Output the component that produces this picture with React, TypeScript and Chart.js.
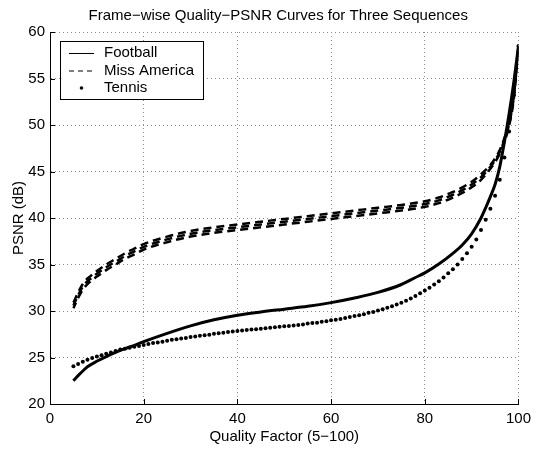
import React, { useEffect, useRef } from "react";
import { Chart, registerables } from "chart.js";

Chart.register(...registerables);

const FONT = "'Liberation Sans', Arial, Helvetica, sans-serif";

const chartTitle = "Frame\u2212wise Quality\u2212PSNR Curves for Three Sequences";
const xAxisTitle = "Quality Factor (5\u2212100)";
const yAxisTitle = "PSNR (dB)";
const seriesNames = ["Football", "Miss America", "Tennis"];

const xTickValues = [0, 20, 40, 60, 80, 100];
const yTickValues = [20, 25, 30, 35, 40, 45, 50, 55, 60];

// Football (solid)
const footballQ = [5, 6, 7, 8, 10, 12, 14, 16, 18, 20, 25, 30, 35, 40, 45, 50, 55, 60, 65, 70, 75, 78, 80, 83, 86, 88, 90, 92, 93, 94, 95, 96, 97, 98, 99, 100];
const footballPSNR = [22.5, 23.05, 23.55, 24.0, 24.6, 25.1, 25.55, 25.95, 26.3, 26.7, 27.6, 28.4, 29.05, 29.55, 29.9, 30.2, 30.5, 30.9, 31.4, 32.0, 32.85, 33.6, 34.1, 35.05, 36.2, 37.1, 38.3, 40.0, 41.1, 42.3, 43.6, 45.5, 48.2, 51.2, 54.6, 58.5];

// Miss America (dashed, band of frames)
const missAmericaQ = [5, 6, 7, 8, 9, 10, 12, 14, 16, 18, 20, 25, 30, 35, 40, 45, 50, 55, 60, 65, 70, 75, 80, 83, 86, 88, 90, 92, 94, 95, 96, 97, 98, 99, 100];
const missAmericaUpper = [30.9, 32.0, 32.9, 33.5, 33.9, 34.3, 35.0, 35.6, 36.2, 36.7, 37.2, 38.0, 38.6, 39.0, 39.3, 39.6, 39.9, 40.2, 40.5, 40.8, 41.1, 41.4, 41.8, 42.2, 42.8, 43.3, 43.9, 44.7, 45.7, 46.4, 47.3, 48.6, 50.3, 53.2, 58.5];
const missAmericaMiddle = [30.6, 31.7, 32.6, 33.2, 33.6, 34.0, 34.7, 35.3, 35.9, 36.4, 36.9, 37.7, 38.3, 38.7, 39.0, 39.3, 39.6, 39.9, 40.2, 40.5, 40.8, 41.1, 41.5, 41.9, 42.5, 43.0, 43.6, 44.4, 45.5, 46.2, 47.1, 48.4, 50.1, 53.0, 58.4];
const missAmericaLower = [30.3, 31.4, 32.3, 32.9, 33.3, 33.7, 34.4, 35.0, 35.6, 36.1, 36.6, 37.4, 38.0, 38.4, 38.7, 39.0, 39.3, 39.6, 39.9, 40.2, 40.5, 40.8, 41.2, 41.6, 42.2, 42.7, 43.3, 44.1, 45.3, 46.0, 46.9, 48.2, 49.9, 52.8, 58.3];

// Tennis (dots, one per quality factor)
const tennisQ = [5, 6, 7, 8, 9, 10, 11, 12, 13, 14, 15, 16, 17, 18, 19, 20, 21, 22, 23, 24, 25, 26, 27, 28, 29, 30, 31, 32, 33, 34, 35, 36, 37, 38, 39, 40, 41, 42, 43, 44, 45, 46, 47, 48, 49, 50, 51, 52, 53, 54, 55, 56, 57, 58, 59, 60, 61, 62, 63, 64, 65, 66, 67, 68, 69, 70, 71, 72, 73, 74, 75, 76, 77, 78, 79, 80, 81, 82, 83, 84, 85, 86, 87, 88, 89, 90, 91, 92, 93, 94, 95, 96, 97, 98, 99, 100];
const tennisPSNR = [24.05, 24.3, 24.55, 24.75, 24.95, 25.1, 25.25, 25.4, 25.55, 25.7, 25.85, 25.95, 26.05, 26.15, 26.25, 26.35, 26.45, 26.55, 26.6, 26.7, 26.8, 26.9, 26.95, 27.05, 27.1, 27.2, 27.25, 27.35, 27.4, 27.45, 27.55, 27.6, 27.65, 27.75, 27.8, 27.85, 27.9, 27.95, 28.0, 28.05, 28.1, 28.15, 28.2, 28.25, 28.3, 28.35, 28.4, 28.45, 28.5, 28.55, 28.65, 28.7, 28.75, 28.85, 28.9, 29.0, 29.05, 29.15, 29.25, 29.35, 29.45, 29.55, 29.65, 29.8, 29.9, 30.05, 30.2, 30.35, 30.5, 30.7, 30.9, 31.1, 31.35, 31.6, 31.9, 32.2, 32.5, 32.85, 33.2, 33.6, 34.05, 34.5, 35.0, 35.6, 36.2, 36.9, 37.7, 38.7, 39.8, 41.0, 42.4, 44.1, 46.5, 49.3, 53.2, 58.5];

function toPoints(xs: number[], ys: number[]) {
  return xs.map((x, i) => ({ x, y: ys[i] }));
}

const titleAndTicks = {
  id: "titleAndTicks",
  afterDraw(chart: any) {
    const { ctx, chartArea, scales } = chart;
    ctx.save();
    ctx.strokeStyle = "#000";
    ctx.lineWidth = 1;
    ctx.beginPath();
    for (const v of xTickValues) {
      const px = Math.round(scales.x.getPixelForValue(v)) + 0.5;
      ctx.moveTo(px, chartArea.bottom);
      ctx.lineTo(px, chartArea.bottom - 5);
    }
    for (const v of yTickValues) {
      const py = Math.round(scales.y.getPixelForValue(v)) + 0.5;
      ctx.moveTo(chartArea.left, py);
      ctx.lineTo(chartArea.left + 5, py);
    }
    ctx.stroke();
    ctx.fillStyle = "#000";
    ctx.font = `15px ${FONT}`;
    ctx.textAlign = "center";
    ctx.textBaseline = "middle";
    ctx.fillText(chartTitle, (chartArea.left + chartArea.right) / 2 - 6, 15.5);
    ctx.restore();
  },
};

const boxLegend = {
  id: "boxLegend",
  afterDraw(chart: any) {
    const { ctx, chartArea } = chart;
    const left = chartArea.left + 10;
    const top = chartArea.top + 9;
    const w = 143;
    const h = 58;
    ctx.save();
    ctx.fillStyle = "#fff";
    ctx.fillRect(left, top, w, h);
    ctx.strokeStyle = "#000";
    ctx.lineWidth = 1;
    ctx.strokeRect(left + 0.5, top + 0.5, w, h);
    const rows = [top + 12, top + 29.5, top + 47];
    const lx0 = left + 9;
    const lx1 = left + 34;
    ctx.beginPath();
    ctx.setLineDash([]);
    ctx.moveTo(lx0, rows[0] + 0.5);
    ctx.lineTo(lx1, rows[0] + 0.5);
    ctx.stroke();
    ctx.beginPath();
    ctx.setLineDash([5, 4]);
    ctx.moveTo(lx0, rows[1] + 0.5);
    ctx.lineTo(lx1, rows[1] + 0.5);
    ctx.stroke();
    ctx.setLineDash([]);
    ctx.fillStyle = "#000";
    ctx.beginPath();
    ctx.arc((lx0 + lx1) / 2, rows[2], 1.8, 0, Math.PI * 2);
    ctx.fill();
    ctx.font = `15px ${FONT}`;
    ctx.textBaseline = "middle";
    ctx.textAlign = "left";
    seriesNames.forEach((name, i) => {
      ctx.fillText(name, left + 44, rows[i]);
    });
    ctx.restore();
  },
};

export default function App() {
  const canvasRef = useRef<HTMLCanvasElement | null>(null);

  useEffect(() => {
    const canvas = canvasRef.current;
    if (!canvas) return;
    const maStyle = {
      showLine: true,
      borderColor: "#000",
      borderWidth: 2.5,
      borderDash: [8, 5],
      pointRadius: 0,
      cubicInterpolationMode: "monotone" as const,
    };
    const chart = new Chart(canvas, {
      type: "scatter",
      data: {
        datasets: [
          {
            label: seriesNames[0],
            data: toPoints(footballQ, footballPSNR),
            showLine: true,
            borderColor: "#000",
            borderWidth: 3,
            pointRadius: 0,
            cubicInterpolationMode: "monotone",
          },
          { label: seriesNames[1], data: toPoints(missAmericaQ, missAmericaUpper), ...maStyle, borderDashOffset: 0 },
          { label: seriesNames[1], data: toPoints(missAmericaQ, missAmericaMiddle), ...maStyle, borderDashOffset: 1 },
          { label: seriesNames[1], data: toPoints(missAmericaQ, missAmericaLower), ...maStyle, borderDashOffset: 2 },
          {
            label: seriesNames[2],
            data: toPoints(tennisQ, tennisPSNR),
            showLine: false,
            pointRadius: 2,
            pointBackgroundColor: "#000",
            pointBorderWidth: 0,
            backgroundColor: "#000",
          },
        ],
      } as any,
      options: {
        responsive: false,
        animation: false,
        devicePixelRatio: 1,
        layout: { padding: { left: 0, right: 15, top: 32, bottom: 0 } },
        plugins: {
          legend: { display: false },
          tooltip: { enabled: false },
          title: { display: false },
        },
        scales: {
          x: {
            type: "linear",
            min: 0,
            max: 100,
            afterBuildTicks: (s: any) => {
              s.ticks = xTickValues.map((v) => ({ value: v }));
            },
            afterFit: (s: any) => {
              s.height = 48;
            },
            ticks: { color: "#000", font: { family: FONT, size: 15 }, padding: 6, maxRotation: 0, autoSkip: false },
            grid: { color: "#8a8a8a", lineWidth: 1, drawTicks: false },
            border: { display: true, color: "#000", width: 1, dash: [1, 3] },
            title: {
              display: true,
              text: xAxisTitle,
              color: "#000",
              font: { family: FONT, size: 15 },
              padding: { top: 0, bottom: 6 },
            },
          },
          y: {
            type: "linear",
            min: 20,
            max: 60,
            afterBuildTicks: (s: any) => {
              s.ticks = yTickValues.map((v) => ({ value: v }));
            },
            afterFit: (s: any) => {
              s.width = 50;
            },
            ticks: { color: "#000", font: { family: FONT, size: 15 }, padding: 5, autoSkip: false },
            grid: { color: "#8a8a8a", lineWidth: 1, drawTicks: false },
            border: { display: true, color: "#000", width: 1, dash: [1, 3] },
            title: {
              display: true,
              text: yAxisTitle,
              color: "#000",
              font: { family: FONT, size: 15 },
              padding: { top: 10, bottom: 0 },
            },
          },
        },
      } as any,
      plugins: [titleAndTicks, boxLegend],
    });
    return () => chart.destroy();
  }, []);

  return (
    <div style={{ position: "absolute", left: 0, top: 0, width: 537, height: 452, background: "#fff" }}>
      <canvas ref={canvasRef} width={537} height={452} style={{ width: 537, height: 452, display: "block" }} />
    </div>
  );
}
